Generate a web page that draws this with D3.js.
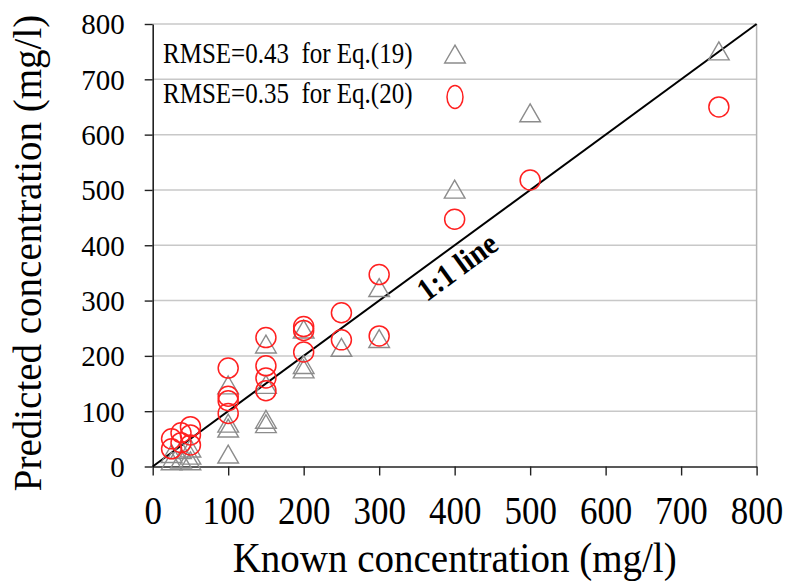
<!DOCTYPE html>
<html lang="en">
<head>
<meta charset="UTF-8" />
<title>Predicted vs known concentration</title>
<style>
  body { margin: 0; background: #fff; }
  svg text { font-family: 'Liberation Serif', 'Times New Roman', serif; fill: #000; }
</style>
</head>
<body>
<svg id="svg" width="788" height="581"></svg>
<script src="https://d3js.org/d3.v7.min.js"></script>
<script>
// Eq.(19) - grey triangles
const eq19Known = [25, 25, 37.5, 37.5, 50, 50, 50, 100, 100, 100, 100, 150, 150, 150, 150, 200, 200, 200, 250, 300, 300, 400, 500, 750];
const eq19Pred  = [5, 18, 8, 25, 5, 15, 28, 142, 73, 64, 17, 216, 143, 80, 72, 243, 179, 171, 210, 318, 226, 496, 634, 746];

// Eq.(20) - red circles
const eq20Known = [25, 25, 37.5, 37.5, 50, 50, 50, 100, 100, 100, 100, 150, 150, 150, 150, 200, 200, 200, 250, 250, 300, 300, 400, 500, 750];
const eq20Pred  = [50, 32, 61, 43, 72, 57, 39, 178, 127, 119, 96, 233, 182, 160, 137, 253, 246, 207, 278, 229, 347, 236, 447, 518, 650];

const yTicks = [0, 100, 200, 300, 400, 500, 600, 700, 800];
const xTicks = [0, 100, 200, 300, 400, 500, 600, 700, 800];
const legendLabels = ['RMSE=0.43  for Eq.(19)', 'RMSE=0.35  for Eq.(20)'];

const svg = d3.select('#svg');

const x = d3.scaleLinear().domain([0, 800]).range([152.7, 756.6]);
const y = d3.scaleLinear().domain([0, 800]).range([466.5, 24]);

// horizontal grid
svg.append('g')
  .selectAll('line')
  .data(yTicks.slice(1))
  .enter()
  .append('line')
  .attr('x1', x(0)).attr('x2', x(800))
  .attr('y1', (d) => y(d)).attr('y2', (d) => y(d))
  .attr('stroke', '#c8c8c8')
  .attr('stroke-width', 1.5);

// right frame
svg.append('line')
  .attr('x1', x(800)).attr('x2', x(800))
  .attr('y1', y(0)).attr('y2', y(800))
  .attr('stroke', '#b4b4b4')
  .attr('stroke-width', 1.5);

// axes
const xAxis = svg.append('g')
  .attr('transform', `translate(0,${y(0)})`)
  .call(d3.axisBottom(x).tickValues(xTicks).tickSize(9).tickSizeOuter(0));
const yAxis = svg.append('g')
  .attr('transform', `translate(${x(0)},0)`)
  .call(d3.axisLeft(y).tickValues(yTicks).tickSize(8).tickSizeOuter(0).tickPadding(20));

[xAxis, yAxis].forEach((g) => {
  g.attr('font-family', null);
  g.select('.domain').attr('stroke', '#222').attr('stroke-width', 1.6);
  g.selectAll('.tick line').attr('stroke', '#222').attr('stroke-width', 1.4);
  g.selectAll('.tick text').attr('fill', '#000');
});
// labels in the original look a bit taller than plain Times
xAxis.selectAll('.tick text')
  .style('font-size', '35px')
  .attr('y', 0)
  .attr('dy', 0)
  .attr('transform', 'translate(0,57) scale(1,1.12)');
yAxis.selectAll('.tick text').style('font-size', '29px').attr('dy', '0.34em');

// 1:1 line
svg.append('path')
  .attr('d', d3.line().x((d) => x(d)).y((d) => y(d))([0, 800]))
  .attr('stroke', '#000')
  .attr('stroke-width', 2)
  .attr('fill', 'none');

const ang = Math.atan2(y(0) - y(800), x(800) - x(0)) * 180 / Math.PI;
svg.append('text')
  .attr('transform', `translate(${x(403)},${y(362)}) rotate(${-ang}) scale(1,1.1)`)
  .attr('text-anchor', 'middle')
  .attr('dy', '0.35em')
  .style('font-size', '29px')
  .style('font-weight', 'bold')
  .text('1:1 line');

// markers
const tri = d3.symbol().type(d3.symbolTriangle).size(185);

svg.append('g')
  .selectAll('path')
  .data(eq19Known.map((k, i) => [k, eq19Pred[i]]))
  .enter()
  .append('path')
  .attr('d', tri)
  .attr('transform', (d) => `translate(${x(d[0])},${y(d[1])})`)
  .attr('fill', 'none')
  .attr('stroke', '#8c8c8c')
  .attr('stroke-width', 1.4);

svg.append('g')
  .selectAll('circle')
  .data(eq20Known.map((k, i) => [k, eq20Pred[i]]))
  .enter()
  .append('circle')
  .attr('cx', (d) => x(d[0]))
  .attr('cy', (d) => y(d[1]))
  .attr('r', 10)
  .attr('fill', 'none')
  .attr('stroke', '#ff2020')
  .attr('stroke-width', 1.5);

// legend
svg.selectAll('.leg')
  .data(legendLabels)
  .enter()
  .append('text')
  .attr('class', 'leg')
  .attr('transform', (d, i) => `translate(163,${63 + i * 40}) scale(1,1.15)`)
  .style('font-size', '25px')
  .style('white-space', 'pre')
  .text((d) => d);

svg.append('path')
  .attr('d', tri)
  .attr('transform', 'translate(455,57)')
  .attr('fill', 'none')
  .attr('stroke', '#8c8c8c')
  .attr('stroke-width', 1.4);
svg.append('ellipse')
  .attr('cx', 455).attr('cy', 97)
  .attr('rx', 8).attr('ry', 11.5)
  .attr('fill', 'none')
  .attr('stroke', '#ff2020')
  .attr('stroke-width', 1.5);

// axis titles
svg.append('text')
  .attr('transform', `translate(${x(400)},572) scale(1,1.08)`)
  .attr('text-anchor', 'middle')
  .style('font-size', '39px')
  .text('Known concentration (mg/l)');

svg.append('text')
  .attr('transform', `translate(41,253) rotate(-90)`)
  .attr('text-anchor', 'middle')
  .style('font-size', '39px')
  .text('Predicted concentration (mg/l)');
</script>
</body>
</html>
